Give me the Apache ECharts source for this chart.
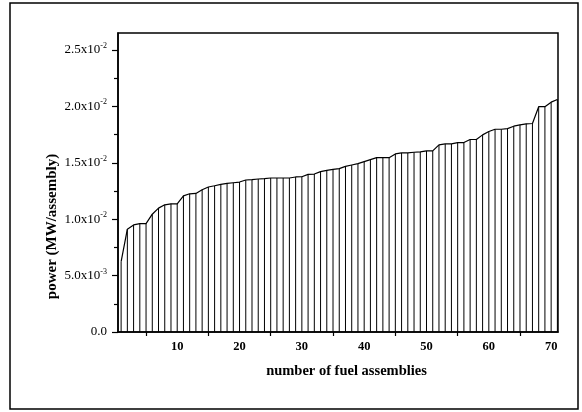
<!DOCTYPE html>
<html>
<head>
<meta charset="utf-8">
<script src="https://cdn.jsdelivr.net/npm/echarts@6/dist/echarts.min.js"></script>
<style>
  html, body { margin: 0; padding: 0; background: #fff; }
  #chart { width: 582px; height: 412px; }
</style>
</head>
<body>
<div id="chart"></div>
<script>
// Power of each fuel assembly (MW/assembly), sorted ascending; assembly n is at index n-1
const power = [
  0.00623, 0.00911, 0.00949, 0.00961, 0.00961, 0.01044, 0.01098, 0.01127, 0.01136, 0.01136,
  0.01207, 0.01225, 0.01228, 0.01261, 0.01285, 0.01296, 0.01308, 0.01317, 0.01323, 0.01329,
  0.01347, 0.01350, 0.01356, 0.01359, 0.01365, 0.01365, 0.01365, 0.01365, 0.01374, 0.01376,
  0.01397, 0.01400, 0.01421, 0.01432, 0.01441, 0.01448, 0.01468, 0.01480, 0.01492, 0.01510,
  0.01528, 0.01545, 0.01545, 0.01545, 0.01578, 0.01587, 0.01587, 0.01593, 0.01596, 0.01605,
  0.01605, 0.01658, 0.01667, 0.01667, 0.01679, 0.01679, 0.01706, 0.01706, 0.01747, 0.01777,
  0.01797, 0.01797, 0.01803, 0.01824, 0.01836, 0.01845, 0.01848, 0.01997, 0.01997, 0.02037,
  0.02061
];

// x axis: labelled values and tick positions
const xLabelValues = [10, 20, 30, 40, 50, 60, 70];
const xTickValues = [5, 15, 25, 35, 45, 55, 65];

// y axis: major ticks with mantissa / exponent label parts, and minor ticks
const yTickValues = [0, 0.005, 0.010, 0.015, 0.020, 0.025];
const yTickLabels = [
  ['0.0', ''],
  ['5.0x10', '-3'],
  ['1.0x10', '-2'],
  ['1.5x10', '-2'],
  ['2.0x10', '-2'],
  ['2.5x10', '-2']
];
const yMinorTickValues = [0.0025, 0.0075, 0.0125, 0.0175, 0.0225];

const X_MIN = 0.5, X_MAX = 71.1;
const Y_MIN = 0, Y_MAX = 0.0265;

const points = power.map((v, i) => [i + 1, v]);

const serif = '"Liberation Serif", "Times New Roman", serif';

const chart = echarts.init(document.getElementById('chart'), null, { renderer: 'canvas' });

chart.setOption({
  animation: false,
  backgroundColor: '#fff',
  graphic: [{
    type: 'rect',
    shape: { x: 10, y: 3, width: 568, height: 406 },
    style: { fill: 'none', stroke: '#000', lineWidth: 1.5 },
    silent: true
  }],
  grid: {
    left: 118, top: 33, right: 24, bottom: 80,
    show: true, borderColor: '#000', borderWidth: 1.5,
    outerBoundsMode: 'none'
  },
  xAxis: {
    type: 'value',
    min: X_MIN, max: X_MAX,
    name: 'number of fuel assemblies',
    nameLocation: 'middle',
    nameGap: 32,
    nameMoveOverlap: false,
    nameTextStyle: {
      fontFamily: serif, fontWeight: 'bold', fontSize: 14.5, color: '#000',
      padding: [0, 0, 0, 17]
    },
    axisLine: { show: true, onZero: false, lineStyle: { color: '#000', width: 1.5 } },
    axisTick: { show: true, customValues: xTickValues, length: 4, lineStyle: { color: '#000', width: 1.2 } },
    axisLabel: {
      customValues: xLabelValues, margin: 8,
      fontFamily: serif, fontWeight: 'bold', fontSize: 12.5, color: '#000'
    },
    splitLine: { show: false }
  },
  yAxis: [{
    type: 'value',
    min: Y_MIN, max: Y_MAX,
    name: 'power (MW/assembly)',
    nameLocation: 'middle',
    nameGap: 58,
    nameRotate: 90,
    nameMoveOverlap: false,
    nameTextStyle: {
      fontFamily: serif, fontWeight: 'bold', fontSize: 15, color: '#000',
      padding: [0, 88, 0, 0]
    },
    axisLine: { show: true, lineStyle: { color: '#000', width: 1.5 } },
    axisTick: { show: true, customValues: yTickValues, length: 6, lineStyle: { color: '#000', width: 1.2 } },
    axisLabel: {
      customValues: yTickValues,
      margin: 11,
      formatter: function (value) {
        const idx = yTickValues.findIndex(t => Math.abs(t - value) < 1e-9);
        if (idx < 0) return '';
        const parts = yTickLabels[idx];
        return parts[1] ? '{b|' + parts[0] + '}{s|' + parts[1] + '}' : '{b|' + parts[0] + '}';
      },
      rich: {
        b: { fontFamily: serif, fontSize: 13, color: '#000', lineHeight: 16 },
        s: { fontFamily: serif, fontSize: 8, color: '#000', lineHeight: 16, verticalAlign: 'top', padding: [0, 0, 6, 0] }
      }
    },
    splitLine: { show: false }
  }, {
    type: 'value',
    min: Y_MIN, max: Y_MAX,
    position: 'left',
    axisLine: { show: false },
    axisTick: { show: true, customValues: yMinorTickValues, length: 4, lineStyle: { color: '#000', width: 1.2 } },
    axisLabel: { show: false },
    splitLine: { show: false }
  }],
  series: [{
    // vertical drop lines from each point to zero
    type: 'bar',
    data: points,
    barWidth: 1,
    itemStyle: { color: '#000' },
    silent: true,
    z: 2
  }, {
    type: 'line',
    data: points,
    showSymbol: false,
    symbol: 'none',
    lineStyle: { color: '#000', width: 1.2 },
    silent: true,
    z: 3
  }]
});
</script>
</body>
</html>
